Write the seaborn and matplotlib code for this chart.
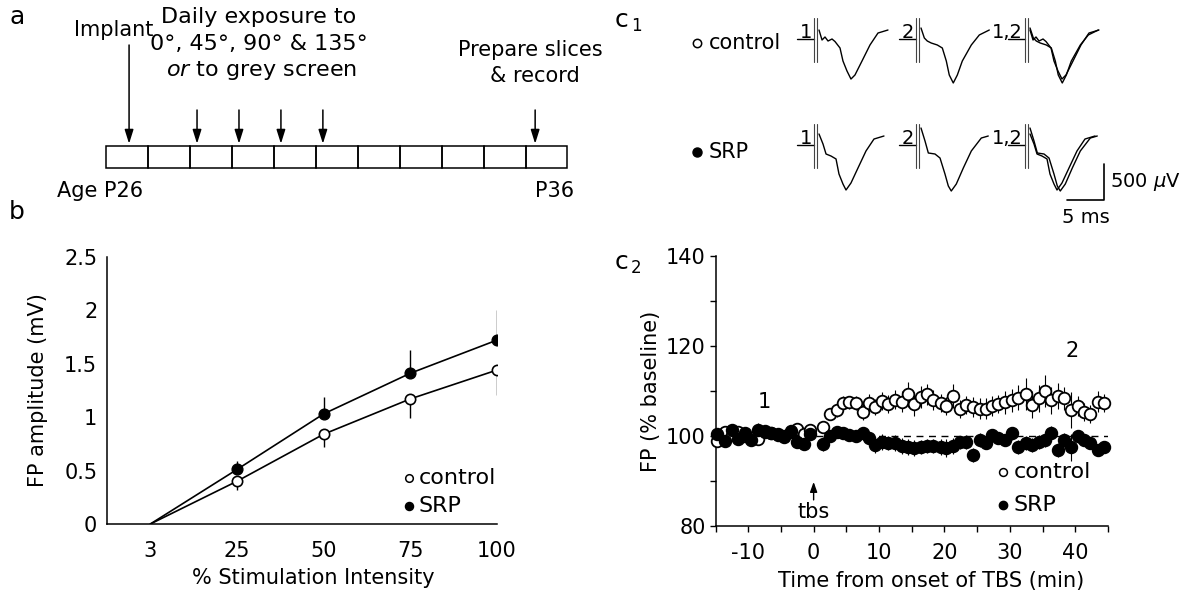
import numpy as np
import pandas as pd
import matplotlib
matplotlib.use("Agg")
import matplotlib.pyplot as plt
import seaborn as sns
from matplotlib.patches import Rectangle

# ---------------- data ----------------
# panel a: timeline
days = [26, 27, 28, 29, 30, 31, 32, 33, 34, 35, 36]
implant_day = 26
exposure_days = [28, 29, 30, 31]
record_day = 36

# panel b: input-output
intensity_labels = ["3", "25", "50", "75", "100"]
control_amp = [0.0, 0.40, 0.84, 1.17, 1.44]
control_sem = [0.0, 0.08, 0.12, 0.18, 0.23]
srp_amp = [0.0, 0.51, 1.03, 1.41, 1.72]
srp_sem = [0.0, 0.08, 0.16, 0.22, 0.28]

# panel c2: time course
t_base = [-14.8, -13.6, -12.5, -11.5, -10.5, -9.5, -8.5, -7.5, -6.5, -5.5,
          -4.5, -3.5, -2.5, -1.5, -0.5]
control_base = [98.8, 100.8, 100.2, 101.0, 100.0, 99.6, 99.4, 100.9, 100.6, 100.3,
                100.0, 101.0, 101.6, 100.5, 101.3]
control_base_sem = [0.8, 0.8, 0.8, 0.8, 0.8, 0.8, 0.8, 0.8, 0.8, 0.8,
                    0.8, 0.8, 0.8, 0.8, 0.8]
srp_base = [100.4, 98.9, 101.3, 99.3, 100.7, 99.2, 101.4, 101.1, 100.7, 100.5,
            99.8, 101.2, 98.6, 98.3, 100.5]
srp_base_sem = [0.9, 0.9, 1.2, 0.9, 0.9, 0.9, 1.4, 0.9, 0.9, 0.9,
                0.9, 0.9, 0.9, 1.2, 0.9]
t_post = [1.5, 2.5, 3.5, 4.5, 5.4, 6.5, 7.5, 8.4, 9.4, 10.5, 11.4, 12.4, 13.5, 14.4,
          15.4, 16.4, 17.4, 18.3, 19.4, 20.3, 21.3, 22.4, 23.3, 24.4, 25.4, 26.3,
          27.3, 28.2, 29.3, 30.3, 31.3, 32.4, 33.4, 34.4, 35.4, 36.3, 37.3, 38.3,
          39.3, 40.4, 41.4, 42.3, 43.4, 44.4]
control_post = [101.9, 104.9, 105.8, 107.4, 107.5, 107.3, 105.3, 107.3, 106.5, 107.8,
                107.1, 108.1, 107.6, 109.3, 107.1, 108.7, 109.3, 108.0, 107.3, 106.7,
                108.9, 106.1, 106.9, 106.5, 106.1, 106.1, 106.7, 107.1, 107.5, 107.9,
                108.5, 109.3, 106.9, 108.4, 110.0, 107.9, 108.9, 108.4, 105.8, 106.7,
                105.4, 104.9, 107.6, 107.3]
control_post_sem = [1.0, 1.2, 1.5, 1.5, 1.5, 1.5, 1.8, 2.0, 1.8, 2.0, 2.0, 2.2, 2.3, 2.8,
                    2.6, 2.5, 2.3, 2.2, 2.0, 2.0, 2.6, 2.0, 2.0, 2.2, 2.3, 2.3, 2.2, 2.0,
                    2.5, 2.6, 2.8, 3.5, 3.0, 3.0, 3.6, 3.0, 2.8, 2.6, 4.0, 2.2, 2.0, 2.0,
                    2.3, 2.0]
srp_post = [98.2, 99.9, 101.0, 100.6, 100.2, 99.9, 100.6, 99.5, 98.0, 98.7,
            98.4, 98.5, 97.8, 97.5, 97.3, 97.5, 97.8, 97.8, 97.6, 97.3,
            97.8, 98.6, 98.7, 95.8, 99.1, 98.4, 100.2, 99.5, 99.1, 100.6,
            97.6, 98.4, 98.0, 98.7, 99.1, 100.7, 96.9, 99.1, 97.5, 99.9,
            99.1, 98.4, 96.9, 97.5]
srp_post_sem = [1.5, 1.2, 1.2, 1.0, 1.0, 1.0, 1.5, 1.5, 1.8, 1.8, 1.5, 1.8, 1.8, 1.8,
                1.8, 1.6, 1.6, 1.6, 1.8, 2.0, 1.8, 1.5, 1.5, 1.5, 1.5, 1.2, 1.2, 1.2,
                1.2, 1.5, 1.5, 1.5, 1.5, 1.5, 1.5, 1.5, 1.5, 1.5, 3.0, 1.5, 1.2, 1.2,
                1.2, 1.2]

# panel c1: example field potentials (ms, uV relative to baseline)
ctrl1_t = [0, 0.41, 0.81, 1.22, 1.76, 2.16, 2.84, 3.24, 3.78, 4.32, 4.86, 5.81, 6.89, 7.97, 9.32]
ctrl1_v = [0, -139, -97, -153, -125, -160, -250, -431, -569, -681, -625, -431, -208, -42, 0]
ctrl2_t = [0, 0.45, 0.85, 1.39, 2.2, 2.88, 3.42, 3.82, 4.36, 4.91, 5.58, 6.8, 7.88, 9.23]
ctrl2_v = [28, -111, -153, -181, -208, -250, -431, -625, -736, -625, -431, -208, -69, 0]
srp1_t = [0, 0.54, 0.95, 1.62, 2.3, 2.7, 3.24, 3.65, 4.32, 5.27, 6.35, 7.43, 8.78]
srp1_v = [28, -111, -250, -278, -319, -528, -667, -750, -653, -444, -208, -42, 0]
srp2_t = [0, 0.54, 0.99, 1.89, 2.57, 3.24, 3.69, 4.09, 4.77, 5.72, 6.8, 8.15, 9.09]
srp2_v = [111, -69, -236, -250, -306, -528, -694, -764, -667, -444, -208, -28, 0]
trace_labels = ["1", "2", "1,2"]

# ---------------- style ----------------
sns.set_theme(style="white")
plt.rcParams['font.family'] = ['DejaVu Sans']
plt.rcParams['mathtext.fontset'] = 'dejavusans'
plt.rcParams['text.color'] = 'black'
plt.rcParams['axes.labelcolor'] = 'black'
plt.rcParams['xtick.color'] = 'black'
plt.rcParams['ytick.color'] = 'black'
FS = 15
FSA = 16

W, H = 1196, 596
fig = plt.figure(figsize=(W / 100, H / 100), dpi=100)

ov = fig.add_axes([0, 0, 1, 1], zorder=0)
ov.set_xlim(0, W)
ov.set_ylim(H, 0)
ov.axis('off')

# ---------------- panel a ----------------
bx0, bw, by0, bh = 106, 41.95, 145.7, 22.6
for i, d in enumerate(days):
    ov.add_patch(Rectangle((bx0 + i * bw, by0), bw, bh, fill=False, lw=1.1, ec='black'))

def arrow(x, y0, y1):
    ov.annotate('', xy=(x, y1), xytext=(x, y0),
                arrowprops=dict(arrowstyle='-|>,head_length=0.7,head_width=0.22',
                                lw=1.1, color='black', shrinkA=0, shrinkB=0))

arrow(bx0 + (days.index(implant_day) + 0.55) * bw, 45, by0 - 2)
for d in exposure_days:
    arrow(bx0 + (days.index(d) + 0.17) * bw, 110, by0 - 2)
arrow(bx0 + (days.index(record_day) + 0.23) * bw, 110, by0 - 2)

ov.text(17, 17, "a", fontsize=18, ha='center', va='center')
ov.text(114, 30, "Implant", fontsize=FS, ha='center', va='center')
ov.text(259, 17, "Daily exposure to", fontsize=FSA, ha='center', va='center')
ov.text(259, 44, "0°, 45°, 90° & 135°", fontsize=FSA, ha='center', va='center')
ov.text(262, 71, r"$\mathit{or}$ to grey screen", fontsize=FSA, ha='center', va='center')
ov.text(530, 50, "Prepare slices", fontsize=FS, ha='center', va='center')
ov.text(535, 76, "& record", fontsize=FS, ha='center', va='center')
ov.text(57, 191, "Age P26", fontsize=FS, ha='left', va='center')
ov.text(574, 191, "P36", fontsize=FS, ha='right', va='center')

# ---------------- panel b ----------------
ax_b = fig.add_axes([107 / W, 1 - 524 / H, (497 - 107) / W, (524 - 256.7) / H])
ax_b.set_facecolor('none')
pos = list(range(len(intensity_labels)))
sns.lineplot(x=pos, y=srp_amp, color='black', lw=1.2, ax=ax_b, zorder=2)
sns.lineplot(x=pos, y=control_amp, color='black', lw=1.2, ax=ax_b, zorder=2)
ax_b.vlines(pos[1:], [a for a in srp_amp[1:]], [a + e for a, e in zip(srp_amp[1:], srp_sem[1:])],
            color='black', lw=1.0, zorder=1)
ax_b.vlines(pos[1:], [a - e for a, e in zip(control_amp[1:], control_sem[1:])], control_amp[1:],
            color='black', lw=1.0, zorder=1)
sns.scatterplot(x=pos[1:], y=srp_amp[1:], color='black', edgecolor='black', s=60,
                linewidth=1.0, ax=ax_b, zorder=4)
sns.scatterplot(x=pos[1:], y=control_amp[1:], color='white', edgecolor='black', s=55,
                linewidth=1.2, ax=ax_b, zorder=4)
ax_b.set_xlim(-0.5, 4.0)
ax_b.set_ylim(0, 2.5)
ax_b.set_xticks(pos)
ax_b.set_xticklabels(intensity_labels)
ax_b.set_yticks([0, 0.5, 1, 1.5, 2, 2.5])
ax_b.set_yticklabels(["0", "0.5", "1", "1.5", "2", "2.5"])
for s in ['top', 'right']:
    ax_b.spines[s].set_visible(False)
for s in ['left', 'bottom']:
    ax_b.spines[s].set_color('black')
    ax_b.spines[s].set_linewidth(1.1)
ax_b.tick_params(axis='x', direction='in', length=4, width=1, pad=12, labelsize=FS, colors='black')
ax_b.tick_params(axis='y', direction='out', length=4, width=1, pad=3, labelsize=FS, colors='black')
ax_b.set_xlabel("% Stimulation Intensity", fontsize=FS)
ax_b.set_ylabel("FP amplitude (mV)", fontsize=FS)
ax_b.xaxis.set_label_coords(0.53, -0.165)
ax_b.yaxis.set_label_coords(-0.15, 0.5)
# legend
sns.scatterplot(x=[2.98], y=[0.43], color='white', edgecolor='black', s=30, linewidth=1.1,
                ax=ax_b, zorder=5, clip_on=False)
sns.scatterplot(x=[2.98], y=[0.17], color='black', edgecolor='black', s=34, linewidth=1.0,
                ax=ax_b, zorder=5, clip_on=False)
ax_b.text(3.10, 0.43, "control", fontsize=FS + 1, va='center', ha='left')
ax_b.text(3.10, 0.17, "SRP", fontsize=FS + 1, va='center', ha='left')
ov.text(17, 212, "b", fontsize=18, ha='center', va='center')

# ---------------- panel c2 ----------------
ax_c = fig.add_axes([715.5 / W, 1 - 526 / H, (1108 - 715.5) / W, (526 - 256) / H])
ax_c.set_facecolor('none')
ax_c.axhline(100, color='black', lw=1.0, ls=(0, (5, 4)), zorder=1)
t_all = t_base + t_post
c_all = control_base + control_post
c_sem = control_base_sem + control_post_sem
s_all = srp_base + srp_post
s_sem = srp_base_sem + srp_post_sem
ax_c.vlines(t_all, [v - e for v, e in zip(c_all, c_sem)], [v + e for v, e in zip(c_all, c_sem)],
            color='black', lw=0.8, zorder=2)
ax_c.vlines(t_all, [v - e for v, e in zip(s_all, s_sem)], [v + e for v, e in zip(s_all, s_sem)],
            color='black', lw=0.8, zorder=2)
sns.scatterplot(x=t_all, y=c_all, color='white', edgecolor='black', s=70, linewidth=1.3,
                ax=ax_c, zorder=3, clip_on=False)
sns.scatterplot(x=t_all, y=s_all, color='black', edgecolor='black', s=75, linewidth=1.0,
                ax=ax_c, zorder=4, clip_on=False)
ax_c.set_xlim(-15, 45)
ax_c.set_ylim(80, 140)
ax_c.set_xticks([-10, 0, 10, 20, 30, 40])
ax_c.set_xticklabels(["-10", "0", "10", "20", "30", "40"])
ax_c.set_xticks([-15, -5, 5, 15, 25, 35, 45], minor=True)
ax_c.set_yticks([80, 100, 120, 140])
ax_c.set_yticks([90, 110, 130], minor=True)
for s in ['top', 'right']:
    ax_c.spines[s].set_visible(False)
for s in ['left', 'bottom']:
    ax_c.spines[s].set_color('black')
    ax_c.spines[s].set_linewidth(1.1)
ax_c.tick_params(axis='x', which='both', direction='out', length=4, width=1, pad=8,
                 labelsize=FS, colors='black', bottom=True)
ax_c.tick_params(axis='y', which='both', direction='out', length=4, width=1, pad=3,
                 labelsize=FS, colors='black', left=True)
ax_c.set_xlabel("Time from onset of TBS (min)", fontsize=FS)
ax_c.set_ylabel("FP (% baseline)", fontsize=FS)
ax_c.xaxis.set_label_coords(0.55, -0.165)
ax_c.yaxis.set_label_coords(-0.14, 0.5)
ax_c.text(-7.6, 107.6, "1", fontsize=FS, ha='center', va='center')
ax_c.text(39.5, 118.8, "2", fontsize=FS, ha='center', va='center')
ax_c.annotate('', xy=(0, 89.8), xytext=(0, 85.8),
              arrowprops=dict(arrowstyle='-|>,head_length=0.5,head_width=0.18',
                              lw=1.0, color='black', shrinkA=0, shrinkB=0))
ax_c.text(0, 83.2, "tbs", fontsize=FS, ha='center', va='center')
sns.scatterplot(x=[29.0], y=[92.1], color='white', edgecolor='black', s=32, linewidth=1.1,
                ax=ax_c, zorder=5)
sns.scatterplot(x=[29.0], y=[84.7], color='black', edgecolor='black', s=36, linewidth=1.0,
                ax=ax_c, zorder=5)
ax_c.text(30.6, 92.1, "control", fontsize=FS + 1, ha='left', va='center')
ax_c.text(30.6, 84.7, "SRP", fontsize=FS + 1, ha='left', va='center')
ov.text(622, 262, "c", fontsize=18, ha='center', va='center')
ov.text(636, 268, "2", fontsize=12, ha='center', va='center')

# ---------------- panel c1 ----------------
PXMS, PXUV = 7.4, 0.072
ax_t = fig.add_axes([740 / W, 1 - 235 / H, 456 / W, 235 / H], zorder=2)
ax_t.set_facecolor('none')
ax_t.set_xlim(0, 456 / PXMS)
ax_t.set_ylim(-235 / PXUV, 0)
ax_t.axis('off')

rows = [
    (30, [[(ctrl1_t, ctrl1_v)], [(ctrl2_t, ctrl2_v)], [(ctrl1_t, ctrl1_v), (ctrl2_t, ctrl2_v)]]),
    (136, [[(srp1_t, srp1_v)], [(srp2_t, srp2_v)], [(srp1_t, srp1_v), (srp2_t, srp2_v)]]),
]
col_start_px = [819, 921, 1030]
for base_px, cols in rows:
    base = -base_px / PXUV
    for lab, start_px, traces in zip(trace_labels, col_start_px, cols):
        t0 = (start_px - 740) / PXMS
        a1 = t0 - 5 / PXMS
        a2 = t0 - 2 / PXMS
        ax_t.plot([t0 - 22 / PXMS, a1], [base - 9 / PXUV] * 2, color='black', lw=1.0)
        for a in (a1, a2):
            ax_t.plot([a, a], [base + 12 / PXUV, base - 32 / PXUV], color='#444444', lw=0.8)
        for tt, vv in traces:
            ax_t.plot([t0 + x for x in tt], [base + v for v in vv], color='black', lw=1.0)
        ax_t.text(a1 - 2 / PXMS, base - 7.5 / PXUV, lab, fontsize=14, ha='right', va='baseline')

# scale bar
sb_x1 = (1104 - 740) / PXMS
sb_y = -200 / PXUV
ax_t.plot([sb_x1 - 5, sb_x1, sb_x1], [sb_y, sb_y, sb_y + 500], color='black', lw=1.2)
ax_t.text(sb_x1 + 6 / PXMS, sb_y + 250, r"500 $\mu$V", fontsize=14, ha='left', va='center')
ax_t.text(sb_x1 - 2.5, sb_y - 8 / PXUV, "5 ms", fontsize=14, ha='center', va='top')

# c1 legend
ov.plot([697], [43], marker='o', ms=6, mfc='white', mec='black', mew=1.1)
ov.text(709, 43, "control", fontsize=FS, ha='left', va='center')
ov.plot([697], [152], marker='o', ms=6.5, mfc='black', mec='black')
ov.text(709, 152, "SRP", fontsize=FS, ha='left', va='center')
ov.text(622, 20, "c", fontsize=18, ha='center', va='center')
ov.text(636, 26, "1", fontsize=12, ha='center', va='center')

fig.savefig("out.png", dpi=100, facecolor='white')
